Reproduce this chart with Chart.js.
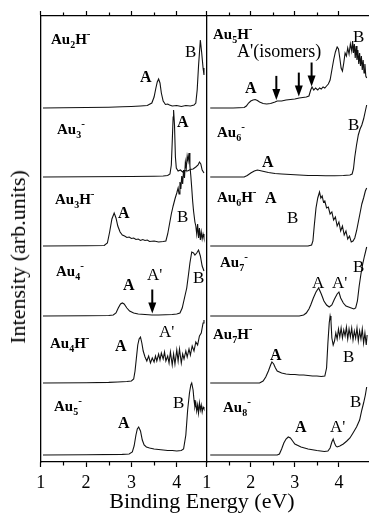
<!DOCTYPE html>
<html>
<head>
<meta charset="utf-8">
<script src="https://cdn.jsdelivr.net/npm/chart.js@4.4.1/dist/chart.umd.min.js"></script>
<style>
  body { margin: 0; background: #fff; }
  #wrap { position: relative; width: 373px; height: 517px; overflow: hidden; }
  canvas { position: absolute; left: 0; top: 0; }
  .lbl { position: absolute; font-family: "Liberation Serif", "Times New Roman", serif; line-height: 1; white-space: nowrap; color: #000; }
  .nm { font-weight: bold; font-size: 15px; }
  .nm sub { font-size: 10px; vertical-align: 0; position: relative; top: 4px; }
  .nm sup { font-size: 11px; vertical-align: 0; position: relative; top: -7px; }
  .a { font-weight: bold; font-size: 16px; }
  .t { font-size: 17px; }
  .iso { font-size: 18px; }
  .title { font-size: 22px; }
</style>
</head>
<body>
<div id="wrap">
  <canvas id="left" width="373" height="517"></canvas>
  <canvas id="right" width="373" height="517"></canvas>
</div>
<script>
// energy range of both panels (eV)
const energyMin = 1;
const energyMax = 4.66;
const xTickLabels = ["1", "2", "3", "4"];

// vertical offset of each trace, top to bottom
const baselines = [354, 285, 216, 146, 79, 7];

// left panel spectra: [binding energy, intensity]
const au2h = [[1.05,0],[1.5,0.3],[2,0.5],[2.5,0.8],[2.8,1.2],[3.0,1.5],[3.2,2],[3.35,2.5],[3.45,5],[3.5,11],[3.54,20],[3.57,26],[3.6,29],[3.63,25],[3.66,15],[3.7,7],[3.75,3.5],[3.8,4],[3.84,3],[3.9,2],[4.0,2.5],[4.1,1.5],[4.2,2.5],[4.3,2],[4.38,3],[4.42,5],[4.45,18],[4.48,42],[4.52,68],[4.55,55],[4.58,40],[4.6,33]];
const au3 = [[1.05,0],[2,0.3],[3,0.5],[3.5,0.8],[3.7,1],[3.8,1.5],[3.85,3],[3.88,12],[3.9,35],[3.92,60],[3.93,67],[3.95,52],[3.97,20],[3.99,9],[4.03,6],[4.08,7],[4.13,5],[4.18,6.5],[4.24,6],[4.3,7.5],[4.36,8],[4.42,10],[4.47,12],[4.5,15],[4.53,13],[4.56,7],[4.6,4]];
const au3h = [[1.05,0],[2,0.3],[2.4,0.5],[2.47,3],[2.52,14],[2.57,27],[2.62,33],[2.66,28],[2.7,20],[2.75,14],[2.8,11],[2.85,10],[2.9,8.5],[2.95,9],[3.0,7.5],[3.05,8],[3.1,6.5],[3.15,7],[3.2,5.5],[3.25,6.5],[3.3,5.5],[3.35,6],[3.4,4.5],[3.5,5],[3.6,4],[3.7,4.5],[3.76,5],[3.8,12],[3.84,22],[3.88,32],[3.92,40],[3.96,47],[4.0,53],[4.03,58],[4.05,52],[4.07,64],[4.09,57],[4.11,70],[4.13,62],[4.15,76],[4.17,68],[4.19,84],[4.21,78],[4.23,90],[4.25,85],[4.27,93],[4.29,80],[4.31,70],[4.33,58],[4.35,45],[4.37,35],[4.4,24],[4.42,20],[4.44,12],[4.46,22],[4.48,8],[4.5,18],[4.52,6],[4.54,14],[4.56,7],[4.58,12],[4.6,8]];
const au4 = [[1.05,0],[2,0.3],[2.5,0.5],[2.6,1],[2.66,3],[2.71,8],[2.76,12],[2.8,13],[2.84,12],[2.9,8],[2.96,5],[3.05,3],[3.15,2],[3.3,1.5],[3.45,1],[3.6,1],[3.75,1.2],[3.9,1.5],[4.0,2],[4.07,3],[4.12,8],[4.17,18],[4.22,28],[4.26,42],[4.29,53],[4.33,64],[4.37,63],[4.4,61],[4.44,63],[4.48,66],[4.52,60],[4.56,50],[4.6,45]];
const au4h = [[1.05,0],[2,0.3],[2.5,0.6],[2.7,1],[2.9,1.5],[3.0,2],[3.05,4],[3.08,12],[3.11,25],[3.14,38],[3.17,44],[3.2,46],[3.23,40],[3.26,32],[3.3,26],[3.34,22],[3.38,27],[3.42,20],[3.46,25],[3.5,21],[3.53,27],[3.56,22],[3.6,29],[3.63,23],[3.66,30],[3.7,24],[3.73,31],[3.76,22],[3.8,27],[3.83,20],[3.86,31],[3.9,18],[3.93,29],[3.96,19],[4.0,33],[4.03,22],[4.06,34],[4.1,20],[4.13,29],[4.16,24],[4.2,32],[4.23,26],[4.27,34],[4.3,28],[4.34,37],[4.38,32],[4.42,41],[4.46,38],[4.5,47],[4.54,50],[4.58,60],[4.6,63]];
const au5 = [[1.05,0],[2,0.3],[2.8,0.6],[2.95,1],[3.02,3],[3.06,9],[3.1,20],[3.13,26],[3.16,28],[3.2,24],[3.24,15],[3.28,10],[3.33,8],[3.4,7],[3.5,6],[3.6,5.5],[3.7,5],[3.8,4.5],[3.9,4.5],[4.0,4],[4.1,4.5],[4.15,6],[4.2,20],[4.24,45],[4.28,62],[4.31,70],[4.33,72],[4.36,65],[4.38,55],[4.4,48],[4.42,52],[4.44,44],[4.46,50],[4.48,42],[4.5,52],[4.52,45],[4.54,50],[4.56,43],[4.58,48],[4.6,46]];

// right panel spectra
const au5h = [[1.08,0],[1.6,0],[1.85,0.5],[1.9,2],[1.95,5],[2.0,7],[2.05,8],[2.1,8.5],[2.15,7.5],[2.2,6],[2.28,4.5],[2.36,4],[2.45,4.5],[2.55,6],[2.6,7],[2.7,7],[2.8,8],[2.9,8.5],[3.0,9],[3.1,10],[3.18,10.5],[3.26,11],[3.32,12],[3.36,18],[3.39,21],[3.43,18],[3.47,20],[3.52,18],[3.56,20],[3.6,19],[3.64,21],[3.68,20],[3.72,22],[3.76,24],[3.8,28],[3.84,38],[3.88,48],[3.92,56],[3.96,61],[3.99,59],[4.02,50],[4.05,40],[4.08,37],[4.11,45],[4.14,55],[4.17,52],[4.2,60],[4.23,54],[4.26,64],[4.29,57],[4.31,67],[4.33,55],[4.35,64],[4.37,50],[4.39,62],[4.41,48],[4.43,58],[4.45,44],[4.47,55],[4.49,42],[4.51,52],[4.53,38],[4.55,48],[4.57,35],[4.59,44],[4.61,32],[4.63,30]];
const au6 = [[1.08,0],[1.85,0],[1.92,1.5],[2.0,4],[2.08,6],[2.15,7],[2.2,6.5],[2.3,5.5],[2.4,4.5],[2.55,3.5],[2.7,3],[2.9,2.5],[3.1,2],[3.3,1.5],[3.5,1.5],[3.7,1.2],[3.9,1.3],[4.1,1.5],[4.25,2],[4.3,3],[4.33,8],[4.36,20],[4.4,32],[4.44,42],[4.48,48],[4.52,52],[4.56,58],[4.6,66],[4.63,72]];
const au6h = [[1.08,0],[3.3,0],[3.38,1],[3.41,5],[3.44,20],[3.48,38],[3.52,48],[3.56,54],[3.59,48],[3.62,50],[3.65,44],[3.68,45],[3.72,38],[3.76,39],[3.8,32],[3.84,34],[3.88,26],[3.92,29],[3.96,20],[4.0,24],[4.04,15],[4.08,20],[4.12,11],[4.16,15],[4.2,7],[4.24,10],[4.28,4],[4.32,5],[4.36,8],[4.4,15],[4.44,24],[4.48,33],[4.52,42],[4.56,48],[4.6,55],[4.63,58]];
const au7 = [[1.08,0],[3.1,0],[3.2,1],[3.26,3],[3.32,7],[3.36,11],[3.42,18],[3.48,24],[3.54,28],[3.6,22],[3.66,15],[3.72,11],[3.78,9],[3.84,11],[3.9,17],[3.96,22],[4.0,24],[4.04,18],[4.1,13],[4.16,10],[4.22,9],[4.28,8],[4.34,7],[4.38,8],[4.42,15],[4.46,30],[4.5,42],[4.54,52],[4.58,60],[4.63,69]];
const au7h = [[1.08,0],[2.2,0],[2.28,2],[2.34,6],[2.4,12],[2.45,18],[2.48,21],[2.52,19],[2.56,15],[2.6,12],[2.7,10],[2.8,9],[2.9,8.5],[3.0,8.5],[3.1,8],[3.2,8],[3.3,7.5],[3.4,7],[3.5,7],[3.6,6.5],[3.68,7],[3.72,15],[3.75,40],[3.78,60],[3.8,67],[3.82,62],[3.84,45],[3.87,38],[3.9,42],[3.93,50],[3.96,44],[3.99,54],[4.02,46],[4.05,55],[4.08,45],[4.11,53],[4.14,47],[4.17,56],[4.2,44],[4.23,54],[4.26,46],[4.29,55],[4.32,43],[4.35,52],[4.38,45],[4.41,55],[4.44,42],[4.47,52],[4.5,44],[4.53,54],[4.56,40],[4.59,50],[4.62,38],[4.64,48]];
const au8 = [[1.08,0],[2.6,0],[2.65,1],[2.7,6],[2.75,12],[2.8,16],[2.85,18],[2.9,17],[2.95,14],[3.0,11],[3.14,8],[3.3,6],[3.5,4.5],[3.67,3.5],[3.75,4],[3.8,7],[3.84,13],[3.87,16],[3.9,12],[3.93,9],[3.96,8],[4.02,9],[4.1,11],[4.18,14],[4.25,17],[4.32,22],[4.4,28],[4.47,35],[4.52,45],[4.56,52],[4.6,60],[4.63,68]];

// energies marked by arrows
const arrowsAu4 = [3.46];
const arrowsAu5h = [2.58, 3.09, 3.38];

const isInt = v => Math.abs(v - Math.round(v)) < 1e-6;
const isHalf = v => Math.abs(v * 2 - Math.round(v * 2)) < 1e-6;

function valueAt(pts, e) {
  for (let i = 1; i < pts.length; i++) {
    if (pts[i].x >= e) {
      const a = pts[i - 1], b = pts[i];
      return a.y + (b.y - a.y) * (e - a.x) / (b.x - a.x);
    }
  }
  return pts[pts.length - 1].y;
}

// short ticks at the half-eV marks
const minorTicks = {
  id: "minorTicks",
  afterDraw(chart) {
    const ctx = chart.ctx, area = chart.chartArea;
    ctx.save();
    ctx.strokeStyle = "#000";
    ctx.lineWidth = 1.2;
    for (const id of ["x", "xTop"]) {
      const sc = chart.scales[id];
      sc.ticks.forEach(t => {
        if (isInt(t.value) || !isHalf(t.value)) return;
        const px = Math.round(sc.getPixelForValue(t.value)) + 0.5;
        const y0 = id === "x" ? area.bottom : area.top;
        const dir = id === "x" ? 1 : -1;
        ctx.beginPath();
        ctx.moveTo(px, y0);
        ctx.lineTo(px, y0 + dir * 3.5);
        ctx.stroke();
      });
    }
    ctx.restore();
  }
};

const arrowMarks = {
  id: "arrowMarks",
  afterDatasetsDraw(chart, args, opts) {
    if (!opts || !opts.energies) return;
    const ctx = chart.ctx;
    const xs = chart.scales.x, ys = chart.scales.y;
    const pts = chart.data.datasets[opts.series].data;
    ctx.save();
    ctx.fillStyle = "#000";
    ctx.strokeStyle = "#000";
    ctx.lineWidth = 2;
    opts.energies.forEach(e => {
      const x = xs.getPixelForValue(e);
      const tip = ys.getPixelForValue(valueAt(pts, e)) - 1.5;
      ctx.beginPath();
      ctx.moveTo(x, tip - 24);
      ctx.lineTo(x, tip - 9);
      ctx.stroke();
      ctx.beginPath();
      ctx.moveTo(x - 4, tip - 11);
      ctx.lineTo(x + 4, tip - 11);
      ctx.lineTo(x, tip);
      ctx.closePath();
      ctx.fill();
    });
    ctx.restore();
  }
};

function axisX(position, height) {
  return {
    type: "linear",
    position,
    min: energyMin,
    max: energyMax,
    afterFit: s => { s.height = height; },
    ticks: {
      display: position === "bottom",
      stepSize: 0.5,
      autoSkip: false,
      maxRotation: 0,
      padding: 5,
      color: "#000",
      font: { family: "Liberation Serif", size: 18 },
      callback: v => (isInt(v) && xTickLabels.includes(String(Math.round(v)))) ? String(Math.round(v)) : ""
    },
    grid: {
      display: true,
      drawOnChartArea: false,
      drawTicks: true,
      tickLength: 5,
      tickWidth: 1.2,
      tickColor: c => (c.tick && isInt(c.tick.value)) ? "#000" : "rgba(0,0,0,0)"
    },
    border: { display: true, color: "#000", width: 1.3 }
  };
}

function makePanel(canvasId, spectra, padLeft, padRight, yWidth, arrows) {
  const datasets = spectra.map((s, k) => ({
    data: s.map(p => ({ x: p[0], y: baselines[k] + p[1] })),
    xAxisID: "x",
    yAxisID: "y",
    borderColor: "#111",
    borderWidth: 1.1,
    pointRadius: 0,
    tension: 0,
    fill: false
  }));
  return new Chart(document.getElementById(canvasId), {
    type: "line",
    data: { datasets },
    options: {
      responsive: false,
      animation: false,
      devicePixelRatio: 1,
      layout: { padding: { left: padLeft, right: padRight, top: 0, bottom: 0 } },
      plugins: {
        legend: { display: false },
        tooltip: { enabled: false },
        arrowMarks: arrows
      },
      scales: {
        x: axisX("bottom", 55),
        xTop: axisX("top", 16),
        y: {
          type: "linear",
          min: 0,
          max: 446,
          afterFit: s => { s.width = yWidth; },
          ticks: { display: false },
          grid: { display: false },
          border: { display: true, color: "#000", width: 1.3 }
        }
      }
    },
    plugins: [minorTicks, arrowMarks]
  });
}

makePanel("left", [au2h, au3, au3h, au4, au4h, au5], 0, 166.3, 40.7, { series: 3, energies: arrowsAu4 });
makePanel("right", [au5h, au6, au6h, au7, au7h, au8], 186.7, 1, 20, { series: 0, energies: arrowsAu5h });

// text labels: [html, class, left, baseline]
const sizes = { nm: 15, a: 16, t: 17, iso: 18, title: 22 };
const labelLayout = [
  ["Au<sub>2</sub>H<sup>-</sup>", "nm", 51, 45],
  ["A", "a", 140, 82],
  ["B", "t", 185, 57],
  ["Au<sub>3</sub><sup>-</sup>", "nm", 57, 135],
  ["A", "a", 177, 127],
  ["Au<sub>3</sub>H<sup>-</sup>", "nm", 55, 205],
  ["A", "a", 118, 218],
  ["B", "t", 177, 222],
  ["Au<sub>4</sub><sup>-</sup>", "nm", 56, 277],
  ["A", "a", 123, 290],
  ["A'", "t", 147, 280],
  ["B", "t", 193, 283],
  ["Au<sub>4</sub>H<sup>-</sup>", "nm", 50, 349],
  ["A", "a", 115, 351],
  ["A'", "t", 159, 337],
  ["Au<sub>5</sub><sup>-</sup>", "nm", 54, 412],
  ["A", "a", 118, 428],
  ["B", "t", 173, 408],
  ["Au<sub>5</sub>H<sup>-</sup>", "nm", 213, 40],
  ["A'(isomers)", "iso", 237, 57],
  ["A", "a", 245, 93],
  ["B", "t", 353, 42],
  ["Au<sub>6</sub><sup>-</sup>", "nm", 217, 138],
  ["A", "a", 262, 167],
  ["B", "t", 348, 130],
  ["Au<sub>6</sub>H<sup>-</sup>", "nm", 217, 203],
  ["A", "a", 265, 203],
  ["B", "t", 287, 223],
  ["Au<sub>7</sub><sup>-</sup>", "nm", 220, 268],
  ["A", "t", 312, 288],
  ["A'", "t", 332, 288],
  ["B", "t", 353, 272],
  ["Au<sub>7</sub>H<sup>-</sup>", "nm", 213, 340],
  ["A", "a", 270, 360],
  ["B", "t", 343, 362],
  ["Au<sub>8</sub><sup>-</sup>", "nm", 223, 413],
  ["A", "a", 295, 432],
  ["A'", "t", 330, 432],
  ["B", "t", 350, 407]
];
const wrap = document.getElementById("wrap");
labelLayout.forEach(([html, cls, left, base]) => {
  const d = document.createElement("div");
  d.className = "lbl " + cls;
  d.innerHTML = html;
  d.style.left = left + "px";
  d.style.top = (base - 0.8375 * sizes[cls]) + "px";
  wrap.appendChild(d);
});

// axis titles
const xTitle = document.createElement("div");
xTitle.className = "lbl title";
xTitle.textContent = "Binding Energy (eV)";
xTitle.style.left = "202px";
xTitle.style.top = (508 - 0.8375 * 22) + "px";
xTitle.style.transform = "translateX(-50%)";
wrap.appendChild(xTitle);

const yTitle = document.createElement("div");
yTitle.className = "lbl title";
yTitle.textContent = "Intensity (arb.units)";
yTitle.style.left = "18px";
yTitle.style.top = "257px";
yTitle.style.transform = "translate(-50%, -50%) rotate(-90deg)";
wrap.appendChild(yTitle);
</script>
</body>
</html>
